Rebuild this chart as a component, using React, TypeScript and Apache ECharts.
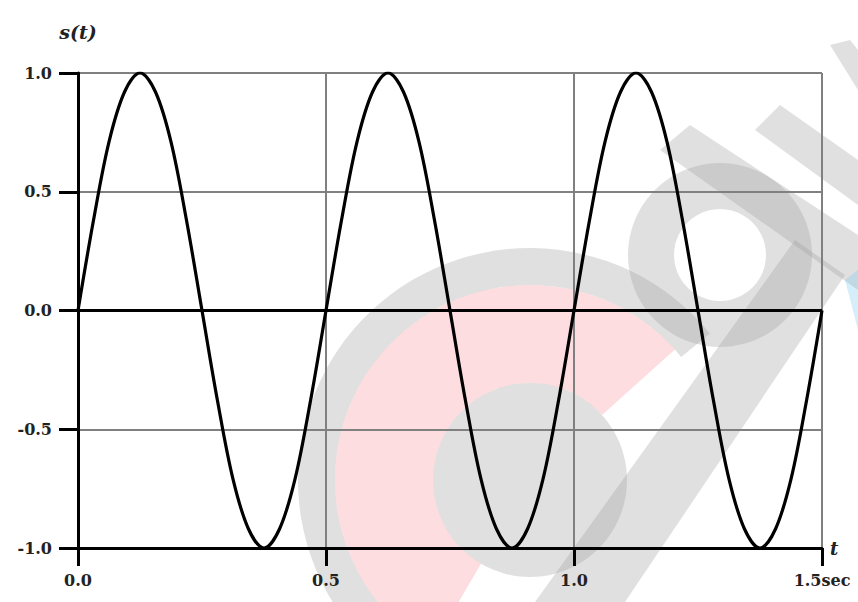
import React, { useEffect, useRef } from "react";
import * as echarts from "echarts";

// time samples (sec) and s(t) values
const times: number[] = [
  0, 0.03125, 0.0625, 0.09375, 0.125, 0.15625, 0.1875, 0.21875, 0.25,
  0.28125, 0.3125, 0.34375, 0.375, 0.40625, 0.4375, 0.46875, 0.5,
  0.53125, 0.5625, 0.59375, 0.625, 0.65625, 0.6875, 0.71875, 0.75,
  0.78125, 0.8125, 0.84375, 0.875, 0.90625, 0.9375, 0.96875, 1.0,
  1.03125, 1.0625, 1.09375, 1.125, 1.15625, 1.1875, 1.21875, 1.25,
  1.28125, 1.3125, 1.34375, 1.375, 1.40625, 1.4375, 1.46875, 1.5,
];
const values: number[] = [
  0, 0.38, 0.71, 0.92, 1.0, 0.92, 0.71, 0.38, 0,
  -0.38, -0.71, -0.92, -1.0, -0.92, -0.71, -0.38, 0,
  0.38, 0.71, 0.92, 1.0, 0.92, 0.71, 0.38, 0,
  -0.38, -0.71, -0.92, -1.0, -0.92, -0.71, -0.38, 0,
  0.38, 0.71, 0.92, 1.0, 0.92, 0.71, 0.38, 0,
  -0.38, -0.71, -0.92, -1.0, -0.92, -0.71, -0.38, 0,
];
const xTickLabels: string[] = ["0.0", "0.5", "1.0", "1.5sec"];
const yTickLabels: string[] = ["-1.0", "-0.5", "0.0", "0.5", "1.0"];
const xTickValues: number[] = [0, 0.5, 1.0, 1.5];
const yTickValues: number[] = [-1, -0.5, 0, 0.5, 1];

const FONT = "'DejaVu Serif', 'Liberation Serif', serif";

export default function App() {
  const ref = useRef<HTMLDivElement>(null);
  useEffect(() => {
    if (!ref.current) return;
    const chart = echarts.init(ref.current, null, { renderer: "svg" });
    const labelFor = (vals: number[], labels: string[]) => (v: number) => {
      const i = vals.findIndex((x) => Math.abs(x - v) < 1e-9);
      return i >= 0 ? labels[i] : "";
    };
    const wm = "rgba(160,160,160,0.32)";
    const watermark = {
      type: "group",
      silent: true,
      z: -10,
      children: [
        { type: "sector", shape: { cx: 530, cy: 480, r: 232, r0: 195, startAngle: 2.1, endAngle: 5.6, clockwise: true }, style: { fill: wm } },
        { type: "sector", shape: { cx: 530, cy: 480, r: 195, r0: 97, startAngle: 2.1, endAngle: 5.55, clockwise: true }, style: { fill: "rgba(250,170,178,0.40)" } },
        { type: "circle", shape: { cx: 530, cy: 480, r: 97 }, style: { fill: wm } },
        { type: "polygon", shape: { points: [[535, 602], [625, 602], [845, 275], [795, 240]] }, style: { fill: wm } },
        { type: "ring", shape: { cx: 720, cy: 255, r: 92, r0: 46 }, style: { fill: wm } },
        { type: "polygon", shape: { points: [[660, 150], [690, 125], [858, 235], [858, 290]] }, style: { fill: wm } },
        { type: "polygon", shape: { points: [[755, 130], [780, 105], [858, 160], [858, 205]] }, style: { fill: wm } },
        { type: "polygon", shape: { points: [[830, 45], [850, 40], [858, 50], [858, 90]] }, style: { fill: wm } },
        { type: "polygon", shape: { points: [[845, 280], [858, 270], [858, 330]] }, style: { fill: "rgba(120,200,240,0.3)" } },
      ],
    };
    chart.setOption({
      animation: false,
      backgroundColor: "#ffffff",
      graphic: [watermark],
      grid: { left: 78, right: 36, top: 73, bottom: 54, containLabel: false },
      xAxis: {
        type: "value",
        min: 0,
        max: 1.5,
        interval: 0.5,
        name: "t",
        nameLocation: "end",
        nameGap: 8,
        nameTextStyle: { fontFamily: FONT, fontStyle: "italic", fontWeight: "bold", fontSize: 18, color: "#222", padding: [0, 0, 12, 0] },
        axisLine: { show: true, onZero: false, lineStyle: { color: "#000", width: 3 } },
        axisTick: { show: true, length: 18, lineStyle: { color: "#000", width: 3 } },
        axisLabel: {
          show: true,
          margin: 24,
          fontFamily: FONT,
          fontWeight: "bold",
          fontSize: 16,
          color: "#222",
          formatter: labelFor(xTickValues, xTickLabels),
        },
        splitLine: { show: true, lineStyle: { color: "#808080", width: 2 } },
      },
      yAxis: {
        type: "value",
        min: -1,
        max: 1,
        interval: 0.5,
        name: "s(t)",
        nameLocation: "end",
        nameGap: 32,
        nameTextStyle: { fontFamily: FONT, fontStyle: "italic", fontWeight: "bold", fontSize: 19, color: "#222", align: "center" },
        axisLine: { show: true, onZero: false, lineStyle: { color: "#000", width: 3 } },
        axisTick: { show: true, length: 19, lineStyle: { color: "#000", width: 3 } },
        axisLabel: {
          show: true,
          margin: 26,
          fontFamily: FONT,
          fontWeight: "bold",
          fontSize: 16,
          color: "#222",
          formatter: labelFor(yTickValues, yTickLabels),
        },
        splitLine: { show: true, lineStyle: { color: "#808080", width: 2 } },
      },
      series: [
        {
          type: "line",
          data: times.map((t, i) => [t, values[i]]),
          smooth: 0.35,
          showSymbol: false,
          symbol: "none",
          lineStyle: { color: "#000", width: 3.2 },
          z: 5,
          markLine: {
            silent: true,
            symbol: "none",
            label: { show: false },
            lineStyle: { color: "#000", width: 3, type: "solid" },
            data: [{ yAxis: 0 }],
          },
        },
      ],
    });
    return () => chart.dispose();
  }, []);
  return (
    <div
      ref={ref}
      style={{ position: "absolute", left: 0, top: 0, width: 858, height: 602 }}
    />
  );
}
